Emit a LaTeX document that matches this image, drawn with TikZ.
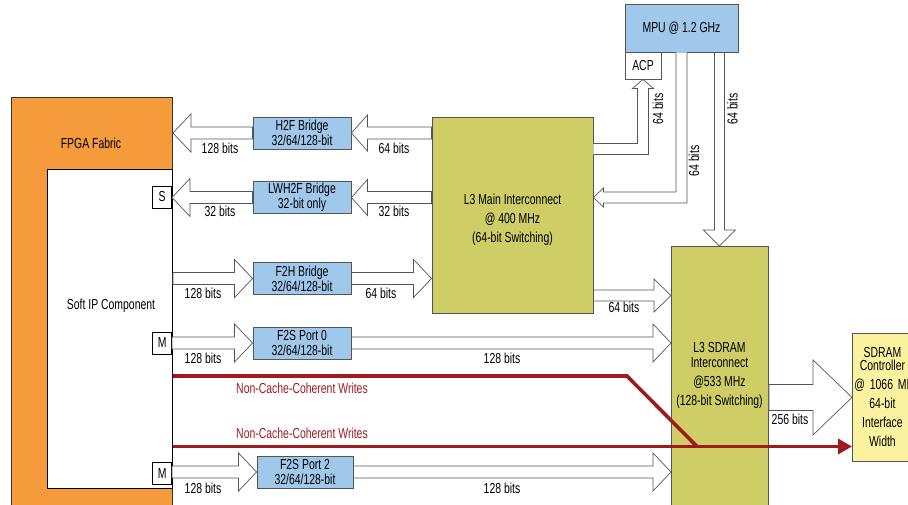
\documentclass[tikz,border=0pt]{standalone}
\usepackage{fontspec}
\setmainfont{Liberation Sans}[FakeStretch=0.72]
\usetikzlibrary{arrows.meta,calc}
\definecolor{fabricorange}{RGB}{246,155,59}
\definecolor{bridgeblue}{RGB}{159,200,234}
\definecolor{icolive}{RGB}{206,205,102}
\definecolor{ctlyellow}{RGB}{251,242,160}
\definecolor{nccred}{RGB}{158,27,32}
\definecolor{edgegray}{RGB}{85,85,85}
\tikzset{
  box/.style={draw=edgegray,line width=.9pt,inner sep=0pt},
  bridge/.style={box,fill=bridgeblue,minimum width=98pt,minimum height=32pt,align=center},
  l3box/.style={box,fill=icolive},
  portbox/.style={draw=black,fill=white,line width=.8pt,minimum width=19pt,minimum height=22pt,inner sep=0pt},
  blk/.style={draw=edgegray,fill=white,line width=.7pt,line join=miter},
  bits/.style={inner sep=0pt},
  ncc/.style={draw=nccred,line width=3.6pt},
}
% hollow block arrow: start, end, shaft half width, head half width, head length
\newcommand{\blkarrow}[5]{%
  \draw[blk] let \p1=#1, \p2=#2,
    \n1={atan2(\y2-\y1,\x2-\x1)}, \n2={veclen(\x2-\x1,\y2-\y1)} in
    [shift={(\p1)},rotate=\n1]
    (0pt,#3pt) -- ({\n2-#5pt},#3pt) -- ({\n2-#5pt},#4pt) -- (\n2,0pt)
    -- ({\n2-#5pt},-#4pt) -- ({\n2-#5pt},-#3pt) -- (0pt,-#3pt) -- cycle;}
\begin{document}
\begin{tikzpicture}[x=1pt,y=-1pt,font=\fontsize{14.5}{15}\selectfont]
  \useasboundingbox (0,0) rectangle (908,504);
  % FPGA side
  \node[box,draw=black!80,fill=fabricorange,anchor=north west,minimum width=161pt,minimum height=420pt] (fpga) at (11,97) {};
  \node (fpgalbl) at (91,143) {FPGA Fabric};
  \node[box,draw=black,fill=white,anchor=north west,minimum width=125pt,minimum height=319pt] (softip) at (47,169) {};
  \node (softiplbl) at (111,306) {Soft IP Component};
  \node[portbox,anchor=east] (slv) at (172,197) {S};
  \node[portbox,anchor=east] (mst0) at (172,343) {M};
  \node[portbox,anchor=east] (mst2) at (172,473.5) {M};
  % bridges
  \node[bridge] (h2f) at (302,133) {H2F Bridge\\32/64/128-bit};
  \node[bridge] (lwh2f) at (302,197.5) {LWH2F Bridge\\32-bit only};
  \node[bridge] (f2h) at (302,278.5) {F2H Bridge\\32/64/128-bit};
  \node[bridge] (f2s0) at (302,343) {F2S Port 0\\32/64/128-bit};
  \node[bridge,minimum width=96pt] (f2s2) at (305,472) {F2S Port 2\\32/64/128-bit};
  % interconnects
  \node[l3box,minimum width=161pt,minimum height=196pt] (l3main) at (512.5,215) {};
  \node[align=center] (l3mainlbl) at (512.5,220) {L3 Main Interconnect\\[4pt]@ 400 MHz\\[4pt](64-bit Switching)};
  \node[box,fill=bridgeblue,minimum width=113pt,minimum height=48pt] (mpu) at (681.5,28) {MPU @ 1.2 GHz};
  \node[box,fill=white,minimum width=36pt,minimum height=27pt] (acp) at (643,65.5) {ACP};
  \node[l3box,anchor=north west,minimum width=97pt,minimum height=280pt] (l3sdram) at (671,246) {};
  \node[align=center] (l3sdramlbl) at (719.5,375) {L3 SDRAM\\Interconnect\\[4pt]@533 MHz\\[4pt](128-bit Switching)};
  \node[box,fill=ctlyellow,anchor=north west,minimum width=60pt,minimum height=128pt,text width=56pt,align=center] (sdramctl) at (852,333)
    {SDRAM\\[-2pt]Controller\\[4pt]@~1066~MHz\\[4pt]64-bit\\[4pt]Interface\\[4pt]Width};
  % helper levels
  \coordinate (lvlA) at (0,149);
  \coordinate (lvlB) at (0,295.5);
  \coordinate (lvlC) at (0,376);
  \coordinate (lvlD) at (0,446.5);
  \coordinate (bend1) at (mpu.south |- lwh2f.east);
  \coordinate (bend2) at (acp.south |- lvlA);
  \coordinate (mainout) at (l3main.east |- lvlB);
  \coordinate (mpuout) at ($(mpu.south east)+(-19,0)$);
  % block arrows
  \blkarrow{(h2f.west)}{(h2f.west -| fpga.east)}{6}{19}{18}
  \blkarrow{(h2f.east -| l3main.west)}{(h2f.east)}{6}{18}{16}
  \blkarrow{(lwh2f.west)}{(lwh2f.west -| slv.east)}{6}{19}{18}
  \blkarrow{(lwh2f.east -| l3main.west)}{(lwh2f.east)}{6}{18}{16}
  \blkarrow{(f2h.west -| softip.east)}{(f2h.west)}{6}{19}{18}
  \blkarrow{(f2h.east)}{(f2h.east -| l3main.west)}{6}{19}{18}
  \blkarrow{(mst0.east)}{(mst0.east -| f2s0.west)}{6}{19}{18}
  \blkarrow{(f2s0.east)}{(f2s0.east -| l3sdram.west)}{6}{19}{18}
  \blkarrow{(f2s2.west -| mst2.east)}{(f2s2.west)}{6}{19}{18}
  \blkarrow{(f2s2.east)}{(f2s2.east -| l3sdram.west)}{6}{19}{18}
  \blkarrow{(mainout)}{(mainout -| l3sdram.west)}{5.5}{16.5}{17}
  \blkarrow{(sdramctl.west -| l3sdram.east)}{(sdramctl.west)}{13}{37.5}{39}
  \blkarrow{(mpuout)}{(mpuout |- l3sdram.north)}{5}{16}{16}
  % bent arrows to and from the MPU
  \draw[blk] ($(mpu.south)+(-5.5,0)$) -- ($(bend1)+(-5.5,-5.5)$) -- ($(bend1 -| l3main.east)+(10,-5.5)$)
    -- ++(0,-4) -- (bend1 -| l3main.east) -- ($(bend1 -| l3main.east)+(10,9.5)$) -- ++(0,-4)
    -- ($(bend1)+(5.5,5.5)$) -- ($(mpu.south)+(5.5,0)$);
  \draw[blk] ($(bend2 -| l3main.east)+(0,-5.5)$) -- ($(bend2)+(-5.5,-5.5)$) -- ($(acp.south)+(-5.5,9)$)
    -- ++(-5,0) -- (acp.south) -- ($(acp.south)+(10.5,9)$) -- ++(-5,0)
    -- ($(bend2)+(5.5,5.5)$) -- ($(bend2 -| l3main.east)+(0,5.5)$);
  % widths
  \node[bits] (w1) at (220,148) {128 bits};
  \node[bits] (w2) at (394,148) {64 bits};
  \node[bits] (w3) at (220,211) {32 bits};
  \node[bits] (w4) at (394,211) {32 bits};
  \node[bits] (w5) at (203,293) {128 bits};
  \node[bits] (w6) at (381,293) {64 bits};
  \node[bits] (w7) at (203,358) {128 bits};
  \node[bits] (w8) at (502,358) {128 bits};
  \node[bits] (w9) at (624,307) {64 bits};
  \node[bits] (w10) at (790,419) {256 bits};
  \node[bits] (w11) at (203,488) {128 bits};
  \node[bits] (w12) at (502,488) {128 bits};
  \node[bits,rotate=90] (w13) at (658,109) {64 bits};
  \node[bits,rotate=90] (w14) at (694,161) {64 bits};
  \node[bits,rotate=90] (w15) at (732.5,109) {64 bits};
  % non-cache-coherent writes
  \coordinate (kink) at (627,376);
  \coordinate (merge) at (697,446.5);
  \draw[ncc] (softip.east |- lvlC) -- (kink) -- (merge);
  \draw[ncc,-{Triangle[length=14pt,width=15pt]}] (softip.east |- lvlD) -- (sdramctl.west |- lvlD);
  \node[bits,text=nccred] (ncc1) at (302,388) {Non-Cache-Coherent Writes};
  \node[bits,text=nccred] (ncc2) at (302,433) {Non-Cache-Coherent Writes};
\end{tikzpicture}
\end{document}
